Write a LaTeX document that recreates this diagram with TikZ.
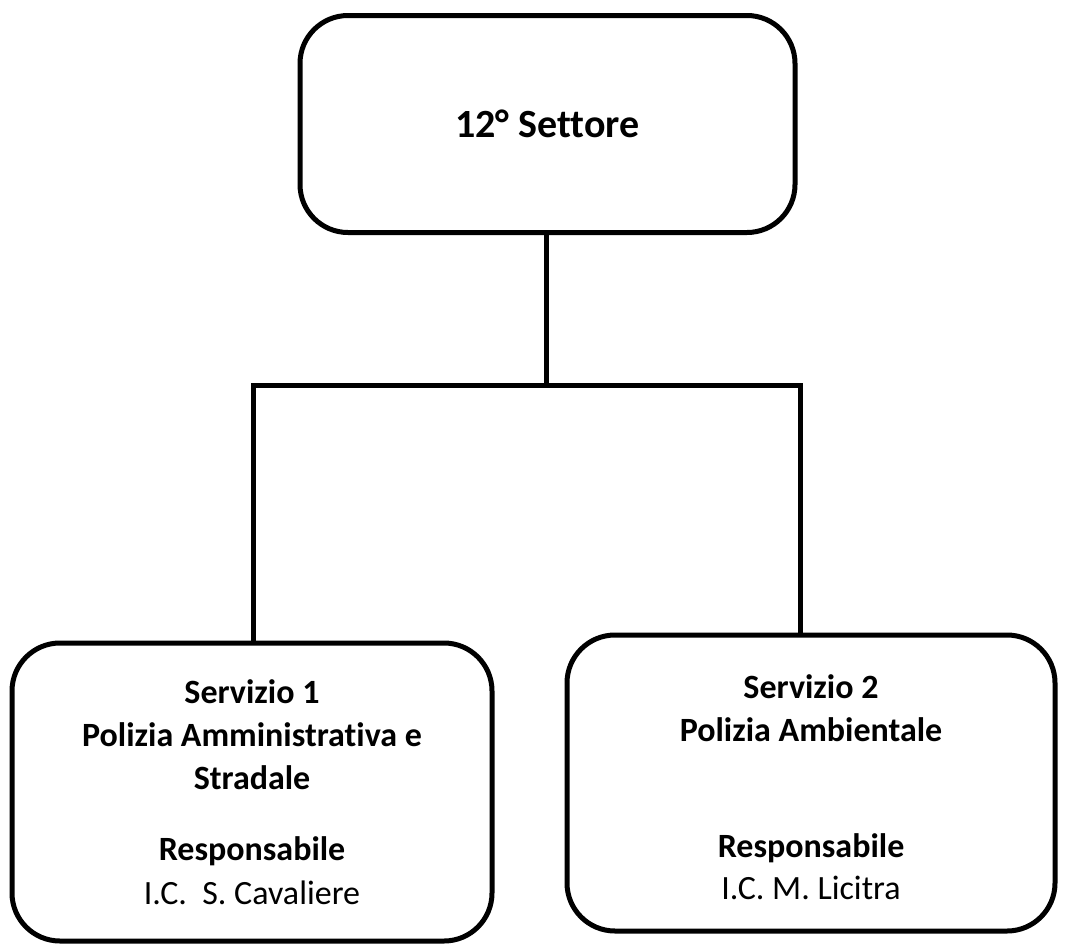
\documentclass[tikz,border=0pt]{standalone}
\usepackage{fontspec}
\setmainfont[Ligatures={NoCommon}]{Carlito}
\begin{document}
\begin{tikzpicture}[x=1pt,y=-1pt,
  box/.style={draw, line width=5pt, rounded corners=48pt, inner sep=0pt},
  link/.style={line width=5pt},
  head/.style={font=\fontsize{40}{48}\selectfont\bfseries, inner sep=0pt},
  bold/.style={font=\fontsize{34}{41}\selectfont\bfseries, inner sep=0pt},
  plain/.style={font=\fontsize{34}{41}\selectfont, inner sep=0pt}]
\useasboundingbox (0,0) rectangle (1067,945);

% boxes
\node[box, minimum width=495pt, minimum height=217pt] (top) at (547.5,124) {};
\node[box, minimum width=480pt, minimum height=298pt] (left) at (252,792) {};
\node[box, minimum width=488pt, minimum height=296pt] (right) at (811,783) {};

% labels
\node[head] (tt) at (top) {12° Settore};

\node[bold]  (l1) at (252,692) {Servizio 1};
\node[bold]  (l2) at (252,735) {Polizia Amministrativa e};
\node[bold]  (l3) at (252,778) {Stradale};
\node[bold]  (l4) at (252,851) {Responsabile};
\node[plain] (l5) at (252,893) {I.C.\ \ S. Cavaliere};

\node[bold]  (r1) at (811,687) {Servizio 2};
\node[bold]  (r2) at (811,730) {Polizia Ambientale};
\node[bold]  (r3) at (811,848) {Responsabile};
\node[plain] (r4) at (811,888) {I.C. M. Licitra};

% connectors
\coordinate (j)  at (546,385);
\coordinate (jl) at (253,385);
\coordinate (jr) at (800,385);
\draw[link] (top.south -| j) -- (j);
\draw[link, line cap=rect] (jl) -- (jr);
\draw[link] (jl) -- (jl |- left.north);
\draw[link] (jr) -- (jr |- right.north);
\end{tikzpicture}
\end{document}
